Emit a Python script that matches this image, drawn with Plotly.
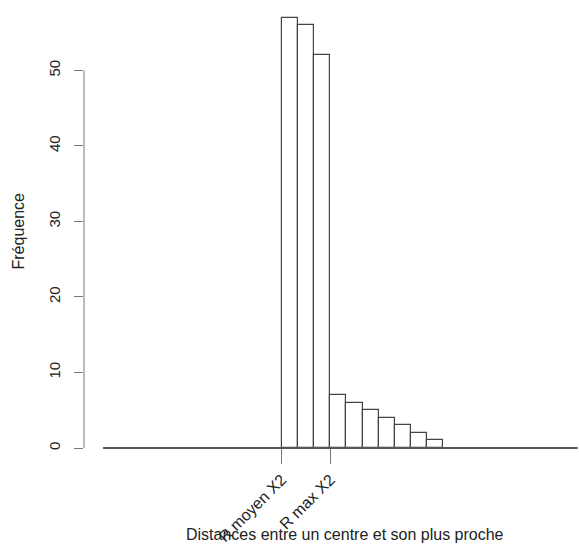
import plotly.graph_objects as go

# Histogram bins (in bin-width units, first bin starts at "R moyen X2")
bin_left = [0, 1, 2, 3, 4, 5, 6, 7, 8, 9]
counts = [57, 56, 52, 7, 6, 5, 4, 3, 2, 1]
xtick_vals = [0, 3]
xtick_text = ["R moyen X2", "R max X2"]
ytick_vals = [0, 10, 20, 30, 40, 50]
x_title = "Distances entre un centre et son plus proche"
y_title = "Fréquence"

W, H = 579, 545
L, R, T, B = 84, 0, 10, 75
plot_h = H - T - B
FONT = "Liberation Sans, Arial, sans-serif"

fig = go.Figure()
fig.add_trace(go.Bar(
    x=[b + 0.5 for b in bin_left], y=counts, width=1,
    marker=dict(color="white", line=dict(color="#444444", width=1.2)),
    showlegend=False, hoverinfo="x+y",
))

# baseline line along y=0
fig.add_shape(type="line", xref="x", yref="y", x0=-11.05, x1=18.3, y0=0, y1=0,
              line=dict(color="#555555", width=2))
# y axis line (R style, from first to last tick)
fig.add_shape(type="line", xref="paper", yref="y", x0=0, x1=0,
              y0=ytick_vals[0], y1=ytick_vals[-1],
              line=dict(color="#777777", width=1))

def px2py(py):
    return (H - B - py) / plot_h

fig.update_layout(
    width=W, height=H,
    margin=dict(l=L, r=R, t=T, b=B),
    paper_bgcolor="white", plot_bgcolor="white",
    font=dict(family=FONT, size=16, color="#222222"),
    bargap=0,
    xaxis=dict(range=[-12.23, 18.38], tickvals=xtick_vals, ticktext=xtick_text,
               tickangle=-45, ticks="outside", ticklen=15, tickcolor="#777777",
               showline=False, showgrid=False, zeroline=False,
               anchor="free", position=px2py(448),
               tickfont=dict(size=16)),
    yaxis=dict(range=[-(470 - 448) / 7.552, (448 - 10) / 7.552],
               tickvals=ytick_vals, tickangle=-90, ticks="outside", ticklen=9,
               tickcolor="#777777", showline=False, showgrid=False, zeroline=False,
               ticklabelstandoff=8, tickfont=dict(size=15)),
    annotations=[
        dict(text=y_title, xref="paper", yref="paper",
             x=(18 - L) / (W - L - R), y=px2py(231.5), textangle=-90,
             showarrow=False, xanchor="center", yanchor="middle",
             font=dict(size=16)),
        dict(text=x_title, xref="paper", yref="paper",
             x=(345 - L) / (W - L - R), y=px2py(534),
             showarrow=False, xanchor="center", yanchor="middle",
             font=dict(size=16)),
    ],
)

fig.write_html("out.html")
